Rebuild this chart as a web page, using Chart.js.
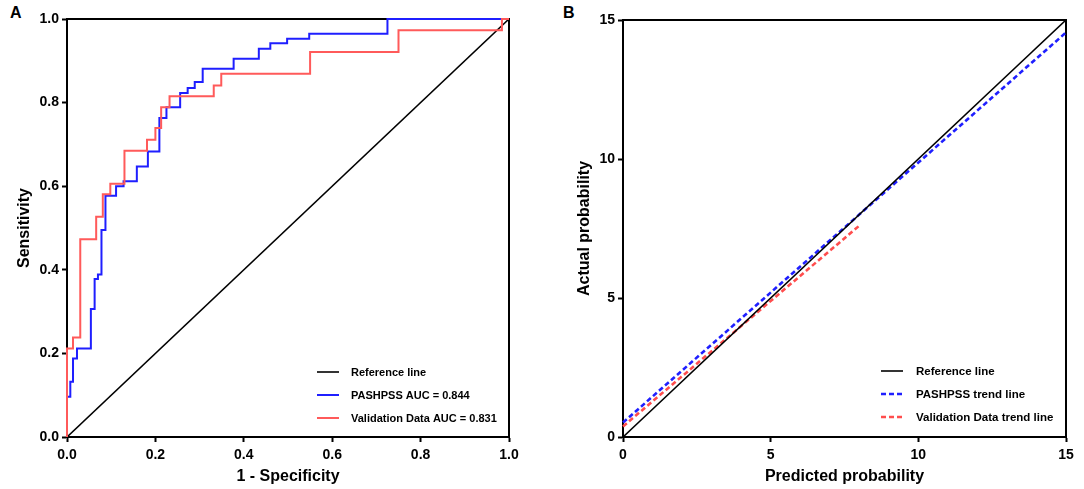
<!DOCTYPE html>
<html>
<head>
<meta charset="utf-8">
<script src="https://cdn.jsdelivr.net/npm/chart.js@4.4.1/dist/chart.umd.min.js"></script>
<style>
  html, body { margin: 0; padding: 0; background: #fff; }
  body { width: 1084px; height: 489px; position: relative; overflow: hidden; }
  canvas { position: absolute; top: 0; }
  #rocChart { left: 0; }
  #calChart { left: 556px; }
  .tag { position: absolute; top: 5px; font: bold 16px/16px "Liberation Sans", Arial, sans-serif; color: #000; }
</style>
</head>
<body>

<div class="tag" style="left:10px">A</div>
<div class="tag" style="left:563px">B</div>

<canvas id="rocChart" width="542" height="489"></canvas>
<canvas id="calChart" width="528" height="489"></canvas>

<script>

// panel A - ROC curves
const rocTicks = [0, 0.2, 0.4, 0.6, 0.8, 1.0];

const refRocX = [0, 1];
const refRocY = [0, 1];

const pashpssFpr = [0, 0, 0.0075, 0.0136, 0.0226, 0.054, 0.0625, 0.070, 0.078, 0.087, 0.111, 0.128, 0.158, 0.183, 0.209, 0.225, 0.256, 0.273, 0.289, 0.307, 0.377, 0.434, 0.46, 0.498, 0.548, 0.725, 1.0];
const pashpssTpr = [0, 0.096, 0.132, 0.188, 0.212, 0.306, 0.378, 0.389, 0.495, 0.577, 0.600, 0.612, 0.647, 0.683, 0.763, 0.789, 0.823, 0.835, 0.849, 0.881, 0.905, 0.929, 0.942, 0.953, 0.965, 1.0, 1.0];

const validFpr = [0, 0, 0.0136, 0.030, 0.066, 0.081, 0.098, 0.13, 0.181, 0.2, 0.213, 0.232, 0.332, 0.349, 0.55, 0.75, 0.984, 1.0];
const validTpr = [0, 0.212, 0.238, 0.473, 0.527, 0.581, 0.606, 0.685, 0.711, 0.739, 0.789, 0.815, 0.841, 0.869, 0.921, 0.973, 1.0, 1.0];

// panel B - calibration
const calTicks = [0, 5, 10, 15];

const calRefX = [0, 15];
const calRefY = [0, 15];

const pashpssTrendX = [0, 15];
const pashpssTrendY = [0.52, 14.55];

const validTrendX = [0, 8.0];
const validTrendY = [0.38, 7.6];


const FONT = "'Liberation Sans', Arial, sans-serif";

const toPoints = (xs, ys) => xs.map((x, i) => ({ x: x, y: ys[i] }));

// box round the plot area
const framePlugin = {
    id: "frame",
    beforeDatasetsDraw(chart) {
        const a = chart.chartArea;
        const ctx = chart.ctx;
        ctx.save();
        ctx.strokeStyle = "#000";
        ctx.lineWidth = 2;
        ctx.strokeRect(a.left, a.top, a.right - a.left, a.bottom - a.top);
        ctx.restore();
    }
};

// legend drawn inside the plot, bottom right
const insideLegend = {
    id: "insideLegend",
    afterDraw(chart, args, opts) {
        const ctx = chart.ctx;
        const a = chart.chartArea;
        const sets = chart.data.datasets;
        ctx.save();
        ctx.font = "bold " + opts.size + "px " + FONT;
        ctx.textBaseline = "middle";
        ctx.fillStyle = "#000";
        sets.forEach((ds, i) => {
            const y = a.bottom - opts.bottom - (sets.length - 1 - i) * opts.spacing;
            const x = a.right - opts.right;
            ctx.strokeStyle = ds.borderColor;
            ctx.lineWidth = ds.legendWidth;
            ctx.setLineDash(ds.borderDash || []);
            ctx.beginPath();
            ctx.moveTo(x, y);
            ctx.lineTo(x + 22, y);
            ctx.stroke();
            ctx.setLineDash([]);
            ctx.fillText(ds.label, x + 22 + opts.gap, y + 0.5);
        });
        ctx.restore();
    }
};

function axis(min, max, ticks, title, fmt, isY, titlePad) {
    return {
        type: "linear",
        min: min,
        max: max,
        afterBuildTicks: s => { s.ticks = ticks.map(v => ({ value: v })); },
        afterFit: s => {
            if (isY) s.width = 67;
            else s.height = 52;
        },
        grid: {
            display: true,
            drawOnChartArea: false,
            drawTicks: true,
            tickLength: 5,
            tickWidth: 2,
            tickColor: "#000"
        },
        border: {
            display: true,
            color: "#000",
            width: 2
        },
        ticks: {
            autoSkip: false,
            maxRotation: 0,
            color: "#000",
            padding: isY ? 3 : 5,
            font: { family: FONT, size: 14, weight: "bold" },
            callback: fmt
        },
        title: {
            display: true,
            text: title,
            color: "#000",
            font: { family: FONT, size: 16, weight: "bold" },
            padding: titlePad
        }
    };
}

const baseOptions = {
    responsive: false,
    animation: false,
    events: [],
    elements: { point: { radius: 0 }, line: { tension: 0 } },
    plugins: { legend: { display: false }, tooltip: { enabled: false } }
};

new Chart(document.getElementById("rocChart"), {
    type: "scatter",
    data: {
        datasets: [
            {
                label: "Reference line",
                data: toPoints(refRocX, refRocY),
                showLine: true,
                borderColor: "#000",
                borderWidth: 1.6,
                legendWidth: 1.6,
                order: 2
            },
            {
                label: "PASHPSS AUC = 0.844",
                data: toPoints(pashpssFpr, pashpssTpr),
                showLine: true,
                stepped: "before",
                borderColor: "#1f1fff",
                borderWidth: 2,
                legendWidth: 2,
                clip: 4,
                order: 1
            },
            {
                label: "Validation Data AUC = 0.831",
                data: toPoints(validFpr, validTpr),
                showLine: true,
                stepped: "before",
                borderColor: "#ff5a5a",
                borderWidth: 2,
                legendWidth: 2,
                clip: 4,
                order: 0
            }
        ]
    },
    options: Object.assign({}, baseOptions, {
        layout: { padding: { left: 0, top: 19, right: 33, bottom: 0 } },
        scales: {
            x: axis(0, 1, rocTicks, "1 - Specificity", v => v.toFixed(1), false, { top: 0, bottom: 3 }),
            y: axis(0, 1, rocTicks, "Sensitivity", v => v.toFixed(1), true, { top: 15, bottom: 0 })
        },
        plugins: Object.assign({}, baseOptions.plugins, {
            insideLegend: { right: 192, bottom: 19, spacing: 23, gap: 12, size: 11 }
        })
    }),
    plugins: [framePlugin, insideLegend]
});

new Chart(document.getElementById("calChart"), {
    type: "scatter",
    data: {
        datasets: [
            {
                label: "Reference line",
                data: toPoints(calRefX, calRefY),
                showLine: true,
                borderColor: "#000",
                borderWidth: 1.6,
                legendWidth: 1.6,
                order: 0
            },
            {
                label: "PASHPSS trend line",
                data: toPoints(pashpssTrendX, pashpssTrendY),
                showLine: true,
                borderColor: "#1f1fff",
                borderWidth: 2.6,
                borderDash: [5, 3],
                legendWidth: 2.6,
                clip: 4,
                order: 1
            },
            {
                label: "Validation Data trend line",
                data: toPoints(validTrendX, validTrendY),
                showLine: true,
                borderColor: "#ff4d4d",
                borderWidth: 2.6,
                borderDash: [5, 3],
                legendWidth: 2.6,
                clip: 4,
                order: 2
            }
        ]
    },
    options: Object.assign({}, baseOptions, {
        layout: { padding: { left: 0, top: 20, right: 18, bottom: 0 } },
        scales: {
            x: axis(0, 15, calTicks, "Predicted probability", v => String(v), false, { top: 0, bottom: 3 }),
            y: axis(0, 15, calTicks, "Actual probability", v => String(v), true, { top: 19, bottom: 0 })
        },
        plugins: Object.assign({}, baseOptions.plugins, {
            insideLegend: { right: 185, bottom: 20, spacing: 23, gap: 13, size: 11.5 }
        })
    }),
    plugins: [framePlugin, insideLegend]
});

</script>
</body>
</html>
